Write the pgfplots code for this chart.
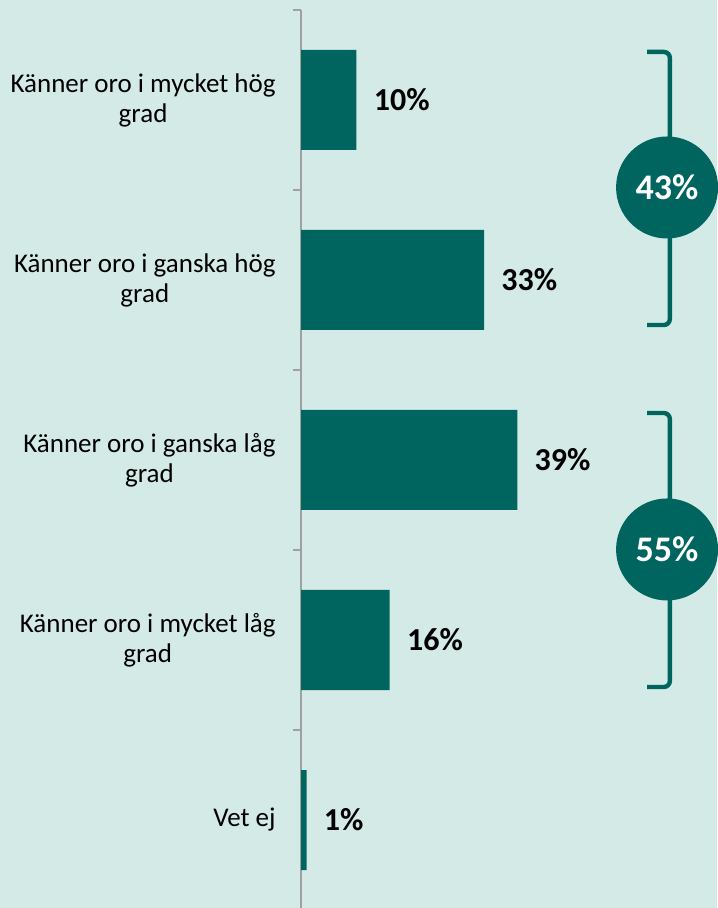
\documentclass[border=0pt]{standalone}
\usepackage{pgfplots}
\pgfplotsset{compat=1.18}
\usepackage{fontspec}
\setmainfont{Carlito}
\definecolor{bg}{HTML}{D3EAE7}
\definecolor{barc}{HTML}{00645F}
\definecolor{axc}{HTML}{A0A0A0}
\begin{document}
\begin{tikzpicture}
\fill[bg] (0,0) rectangle (358.5pt,454pt);
\useasboundingbox (0,0) rectangle (358.5pt,454pt);
\begin{axis}[
  at={(150.5pt,449pt)}, anchor=north west,
  scale only axis, width=208pt, height=450pt,
  xmin=0, xmax=75, ymin=-0.5, ymax=4.5, y dir=reverse,
  hide x axis, axis y line*=left,
  y axis line style={axc, line width=1pt, -},
  ytick={0,1,2,3,4},
  yticklabels={{Känner oro i mycket hög\\grad},{Känner oro i ganska hög\\grad},{Känner oro i ganska låg\\grad},{Känner oro i mycket låg\\grad},{Vet ej}},
  major tick length=0pt,
  minor ytick={-0.5,0.5,1.5,2.5,3.5,4.5},
  minor tick length=4pt, tick align=outside,
  minor tick style={axc, line width=1pt},
  yticklabel style={align=center, font=\fontsize{13.5}{15}\selectfont, text=black, inner sep=0pt, xshift=-12.5pt},
  xbar, bar width=50pt,
  point meta=x,
  /pgf/number format/assume math mode=true,
  nodes near coords={\pgfmathprintnumber{\pgfplotspointmeta}\%},
  nodes near coords style={font=\fontsize{16}{18}\selectfont\bfseries, text=black, anchor=west, inner sep=0pt, xshift=8.5pt},
  clip=false
]
\addplot[fill=barc, draw=none] coordinates {(10,0) (33,1) (39,2) (16,3) (1,4)};
\draw[barc, line width=2.2pt, rounded corners=3pt] (axis cs:62.4,-0.267) -- (axis cs:66.5,-0.267) -- (axis cs:66.5,1.25) -- (axis cs:62.4,1.25);
\draw[barc, line width=2.2pt, rounded corners=3pt] (axis cs:62.4,1.739) -- (axis cs:66.5,1.739) -- (axis cs:66.5,3.261) -- (axis cs:62.4,3.261);
\fill[barc] (axis cs:66.0,0.486) circle[radius=25.5pt];
\fill[barc] (axis cs:66.0,2.497) circle[radius=25.5pt];
\node[text=white, font=\fontsize{18}{20}\selectfont\bfseries] at (axis cs:66.0,0.486) {43\%};
\node[text=white, font=\fontsize{18}{20}\selectfont\bfseries] at (axis cs:66.0,2.497) {55\%};
\end{axis}
\end{tikzpicture}
\end{document}
